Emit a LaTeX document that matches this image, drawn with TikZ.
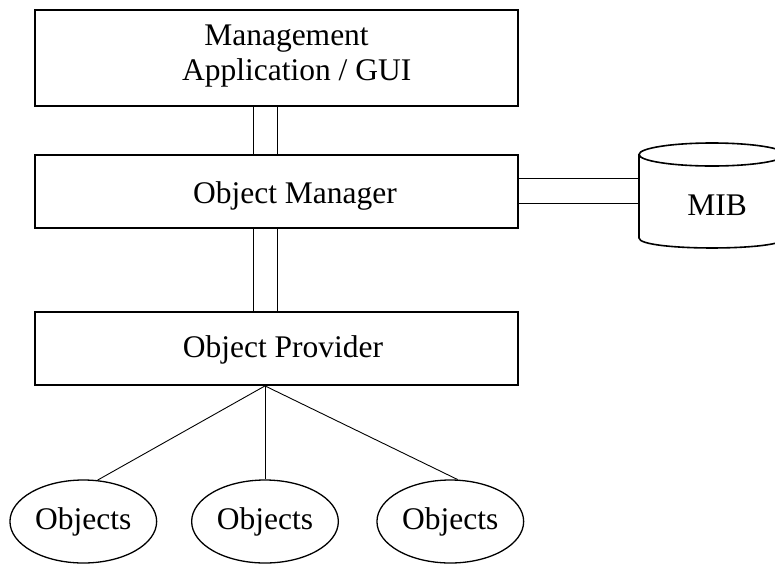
\documentclass[tikz,border=0pt]{standalone}
\usepackage{fontspec}
\setmainfont{Liberation Serif}
\usetikzlibrary{shapes.geometric}
\begin{document}
\begin{tikzpicture}[x=1pt,y=-1pt,
  box/.style={draw, line width=1.8pt, rectangle, minimum width=483pt, inner sep=0pt},
  lbl/.style={anchor=base, inner sep=0pt, font=\fontsize{31.5}{35}\selectfont},
  obj/.style={draw, ellipse, line width=1.3pt, minimum width=146.7pt, minimum height=83pt, inner sep=0pt, font=\fontsize{31.5}{35}\selectfont},
  link/.style={line width=0.9pt},
  cyl/.style={line width=1.6pt}]
\useasboundingbox (0,0) rectangle (775,565);
\clip (0,0) rectangle (775,565);
% boxes
\node[box, minimum height=96pt] (mgmt) at (276.5,58) {};
\node[box, minimum height=73pt] (mgr) at (276.5,191.5) {};
\node[box, minimum height=73pt] (prov) at (276.5,348.5) {};
% box texts
\node[lbl] (t1) at (286.5,45) {Management};
\node[lbl] (t2) at (296.7,80) {Application / GUI};
\node[lbl] (t3) at (295,203) {Object Manager};
\node[lbl] (t4) at (283,357) {Object Provider};
% objects
\node[obj] (o1) at (83.3,521.5) {Objects};
\node[obj] (o2) at (265,521.5) {Objects};
\node[obj] (o3) at (450.3,521.5) {Objects};
% cylinder (MIB)
\draw[cyl] (712,154.5) ellipse [x radius=73, y radius=11.5];
\draw[cyl] (639,154.5) -- (639,238) .. controls (639,251.3) and (785,251.3) .. (785,238) -- (785,154.5);
\coordinate (cylw) at (639,196);
\node[lbl] (mib) at (717,215) {MIB};
% helper coordinates
\coordinate (xl) at (253,0);
\coordinate (xr) at (277,0);
\coordinate (ya) at (0,178);
\coordinate (yb) at (0,203);
% connectors
\draw[link] (mgmt.south -| xl) -- (mgr.north -| xl);
\draw[link] (mgmt.south -| xr) -- (mgr.north -| xr);
\draw[link] (mgr.south -| xl) -- (prov.north -| xl);
\draw[link] (mgr.south -| xr) -- (prov.north -| xr);
\draw[link] (mgr.east |- ya) -- (cylw |- ya);
\draw[link] (mgr.east |- yb) -- (cylw |- yb);
\coordinate (fan) at (prov.south -| o2.north);
\draw[link] (fan) -- (o1.71);
\draw[link] (fan) -- (o2.north);
\draw[link] (fan) -- (o3.80);
\end{tikzpicture}
\end{document}
